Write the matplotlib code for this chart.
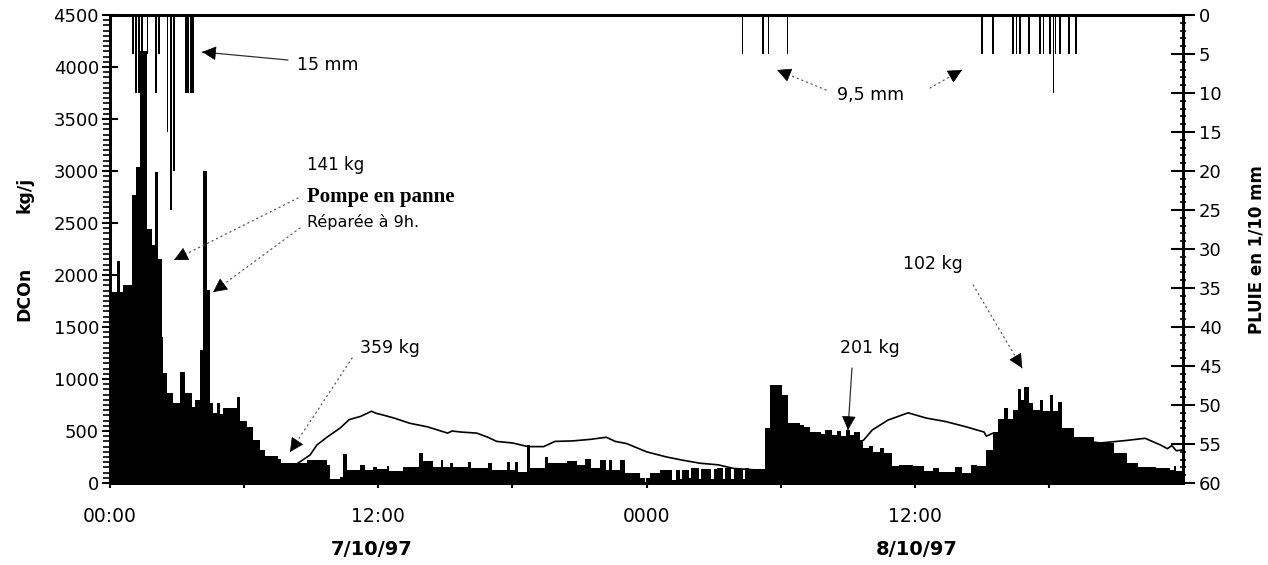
import matplotlib

matplotlib.use("Agg")
import matplotlib.pyplot as plt
from matplotlib.ticker import MultipleLocator

# ── Data (hours from 7/10/97 00:00) ─────────────────────────────────
# DCOn flux, kg/j : step breakpoints (value holds until next time)
dco_t = [0.00, 0.31, 0.45, 0.58, 0.98, 1.16, 1.34, 1.66, 1.88, 2.01,
         2.15, 2.33, 2.37, 2.55, 2.82, 3.13, 3.36, 3.67, 3.80, 4.03,
         4.16, 4.34, 4.47, 4.61, 4.79, 4.92, 5.06, 5.68, 5.82, 6.13,
         6.40, 6.71, 6.95, 7.50, 7.65, 8.50, 8.80, 9.70, 9.84, 10.29,
         10.42, 10.60, 11.19, 11.40, 11.77, 11.95, 12.40, 12.50, 13.10, 13.80,
         14.00, 14.45, 14.80, 14.90, 15.20, 15.35, 16.00, 16.15, 16.90, 17.10,
         17.75, 17.90, 18.10, 18.25, 18.65, 18.80, 19.45, 19.60, 20.45, 20.90,
         21.25, 21.50, 21.90, 22.20, 22.30, 22.45, 22.80, 23.05, 23.70, 23.95,
         24.05, 24.15, 24.60, 25.15, 25.30, 25.50, 25.60, 25.90, 26.00, 26.35,
         26.45, 26.90, 27.00, 27.15, 27.40, 27.50, 27.80, 27.90, 28.30, 28.40,
         28.60, 29.30, 29.53, 30.07, 30.33, 30.87, 31.05, 31.30, 31.80, 32.00,
         32.30, 32.50, 32.70, 32.90, 33.10, 33.30, 33.55, 33.70, 33.95, 34.15,
         34.45, 34.60, 35.00, 35.30, 35.90, 36.40, 36.80, 37.10, 37.80, 38.10,
         38.50, 38.80, 39.20, 39.50, 39.70, 40.00, 40.15, 40.40, 40.60, 40.75,
         40.90, 41.10, 41.30, 41.60, 41.75, 42.05, 42.20, 42.40, 42.60, 43.10,
         44.00, 44.90, 45.50, 46.00, 46.80, 47.40, 47.60, 47.70, 48.00]
dco_v = [1840, 2130, 1840, 1900, 2770, 3040, 4150, 2440, 2290, 2990,
         2150, 1400, 1060, 870, 770, 1070, 870, 730, 800, 1280,
         3000, 1860, 770, 670, 770, 660, 720, 830, 600, 540,
         410, 320, 260, 230, 195, 190, 220, 170, 40, 60,
         280, 125, 175, 125, 150, 130, 160, 120, 150, 290,
         210, 155, 220, 150, 190, 155, 200, 140, 190, 125,
         200, 125, 205, 110, 370, 140, 250, 190, 210, 170,
         235, 140, 220, 125, 220, 125, 220, 95, 50, 10,
         50, 95, 125, 30, 125, 40, 125, 45, 140, 40,
         130, 40, 130, 140, 40, 140, 40, 130, 40, 140,
         130, 530, 940, 850, 580, 560, 540, 490, 470, 510,
         460, 500, 450, 510, 460, 490, 400, 340, 355, 300,
         335, 285, 160, 175, 160, 120, 140, 110, 155, 95,
         170, 160, 320, 490, 620, 720, 620, 700, 900, 800,
         920, 770, 700, 800, 690, 850, 690, 780, 530, 440,
         380, 290, 190, 155, 140, 125, 160, 120, 120]

# reference curve (thin line), kg/j
ref_t = [8.4, 8.95, 9.25, 9.7, 10.3, 10.7, 11.2, 11.7, 11.9, 12.1,
         12.7, 13.4, 14.2, 15.1, 15.3, 15.7, 16.4, 16.9, 17.3, 18.0,
         18.7, 19.4, 19.9, 20.7, 21.5, 22.2, 22.6, 23.1, 24.0, 24.9,
         25.6, 26.4, 27.2, 27.9, 28.6, 29.3, 30.5, 32.0, 33.0, 33.7,
         34.1, 34.8, 35.7, 36.5, 37.4, 38.3, 39.1, 39.2, 39.5, 41.0,
         43.0, 44.3, 45.5, 46.3, 47.0, 47.3, 47.5, 47.7, 48.0]
ref_v = [190, 270, 365, 440, 530, 610, 640, 690, 670, 660,
         625, 575, 540, 480, 500, 490, 480, 440, 400, 385,
         350, 350, 400, 405, 420, 440, 400, 380, 300, 250,
         220, 190, 175, 140, 130, 120, 200, 300, 380, 410,
         510, 605, 675, 625, 590, 540, 490, 450, 480, 460,
         420, 385, 410, 430, 365, 330, 360, 310, 320]

# rainfall, 1/10 mm
rain_t = [1.03, 1.16, 1.30, 1.43, 1.68, 2.06, 2.19, 2.57, 2.73, 2.86,
          3.40, 3.49, 3.62, 3.71, 28.3, 29.2, 29.45, 30.3, 39.0, 39.5,
          40.4, 40.55, 40.7, 41.1, 41.6, 41.75, 42.05, 42.2, 42.3, 42.5,
          42.9, 43.2]
rain_v = [5, 10, 10, 5, 5, 10, 5, 15, 25, 20,
          10, 10, 10, 10, 5, 5, 5, 5, 5, 5,
          5, 5, 5, 5, 5, 5, 5, 10, 5, 5,
          5, 5]

x_ticks = [0, 6, 12, 18, 24, 30, 36, 42]
x_labels = ["00:00", "", "12:00", "", "0000", "", "12:00", ""]
day_labels = [("7/10/97", 11.7), ("8/10/97", 36.1)]

# ── Figure ───────────────────────────────────────────────────────────
plt.rcParams["font.family"] = "DejaVu Sans"
fig = plt.figure(figsize=(12.68, 5.65), dpi=100)
ax = fig.add_axes([0.0868, 0.1451, 0.8462, 0.8284])

ax.fill_between(dco_t, dco_v, step="post", color="black", lw=0, zorder=2)
ax.plot(ref_t, ref_v, color="black", lw=1.2, zorder=3)

ax.set_xlim(0, 48)
ax.set_ylim(0, 4500)
ax.set_xticks(x_ticks)
ax.set_xticklabels(x_labels)
ax.yaxis.set_major_locator(MultipleLocator(500))
ax.yaxis.set_minor_locator(MultipleLocator(50))
ax.tick_params(axis="y", which="major", direction="inout", length=12,
               width=1.5, labelsize=13, pad=2)
ax.tick_params(axis="y", which="minor", direction="out", length=5, width=1.2)
ax.tick_params(axis="x", which="major", direction="inout", length=7,
               width=1.5, labelsize=13.5, pad=14)
for sp in ax.spines.values():
    sp.set_linewidth(2)

# rainfall on inverted right axis
ax2 = ax.twinx()
ax2.bar(rain_t, rain_v, width=0.07, color="black", lw=0)
ax2.set_ylim(60, 0)
ax2.yaxis.set_major_locator(MultipleLocator(5))
ax2.yaxis.set_minor_locator(MultipleLocator(1))
ax2.tick_params(axis="y", which="major", direction="inout", length=17,
                width=1.5, labelsize=13, pad=3)
ax2.tick_params(axis="y", which="minor", direction="inout", length=5,
                width=1.2)
for sp in ax2.spines.values():
    sp.set_linewidth(2)

# axis titles
fig.text(0.019, 0.48, "DCOn", rotation=90, ha="center", va="center",
         fontsize=12.5, fontweight="bold")
fig.text(0.019, 0.655, "kg/j", rotation=90, ha="center", va="center",
         fontsize=12.5, fontweight="bold")
fig.text(0.991, 0.558, "PLUIE en 1/10 mm", rotation=90, ha="center",
         va="center", fontsize=12, fontweight="bold")
for label, hx in day_labels:
    ax.text(hx, -0.143, label, transform=ax.get_xaxis_transform(),
            ha="center", va="center", fontsize=14, fontweight="bold")


# ── Annotations ──────────────────────────────────────────────────────
def arrow(tip, tail, dotted=False):
    """Thin leader line with a solid filled triangular head at `tip`."""
    line = dict(arrowstyle="-", lw=0.9, shrinkA=0, shrinkB=0,
                color="0.35" if dotted else "0.2",
                linestyle=(0, (1, 3)) if dotted else "-")
    ax.annotate("", xy=tip, xytext=tail, arrowprops=line)
    # short segment near the tip only carries the head
    near = (tip[0] + 0.08 * (tail[0] - tip[0]),
            tip[1] + 0.08 * (tail[1] - tip[1]))
    head = dict(arrowstyle="-|>,head_length=0.9,head_width=0.45",
                color="black", lw=0.5, shrinkA=0, shrinkB=0)
    ax.annotate("", xy=tip, xytext=near, arrowprops=head)


ax.text(8.37, 4019, "15 mm", fontsize=12.5, va="center", ha="left")
arrow((4.12, 4144), (7.96, 4067))

ax.text(8.81, 3058, "141 kg", fontsize=12, va="center", ha="left")
ax.text(8.81, 2750, "Pompe en panne", fontsize=15, fontweight="bold",
        family="Liberation Serif", va="center", ha="left")
ax.text(8.81, 2510, "Réparée à 9h.", fontsize=11.5, va="center", ha="left")
arrow((2.86, 2144), (8.41, 2740), dotted=True)
arrow((4.61, 1836), (8.50, 2452), dotted=True)

ax.text(11.18, 1298, "359 kg", fontsize=12.5, va="center", ha="left")
arrow((8.05, 298), (10.83, 1202), dotted=True)

ax.text(32.52, 3731, "9,5 mm", fontsize=12.5, va="center", ha="left")
arrow((29.84, 3971), (32.03, 3779), dotted=True)
arrow((38.11, 3971), (36.68, 3798), dotted=True)

ax.text(32.66, 1298, "201 kg", fontsize=12.5, va="center", ha="left")
arrow((33.01, 510), (33.19, 1106))

ax.text(35.47, 2106, "102 kg", fontsize=12.5, va="center", ha="left")
arrow((40.80, 1106), (38.61, 1904), dotted=True)

fig.savefig("out.png", dpi=100)
